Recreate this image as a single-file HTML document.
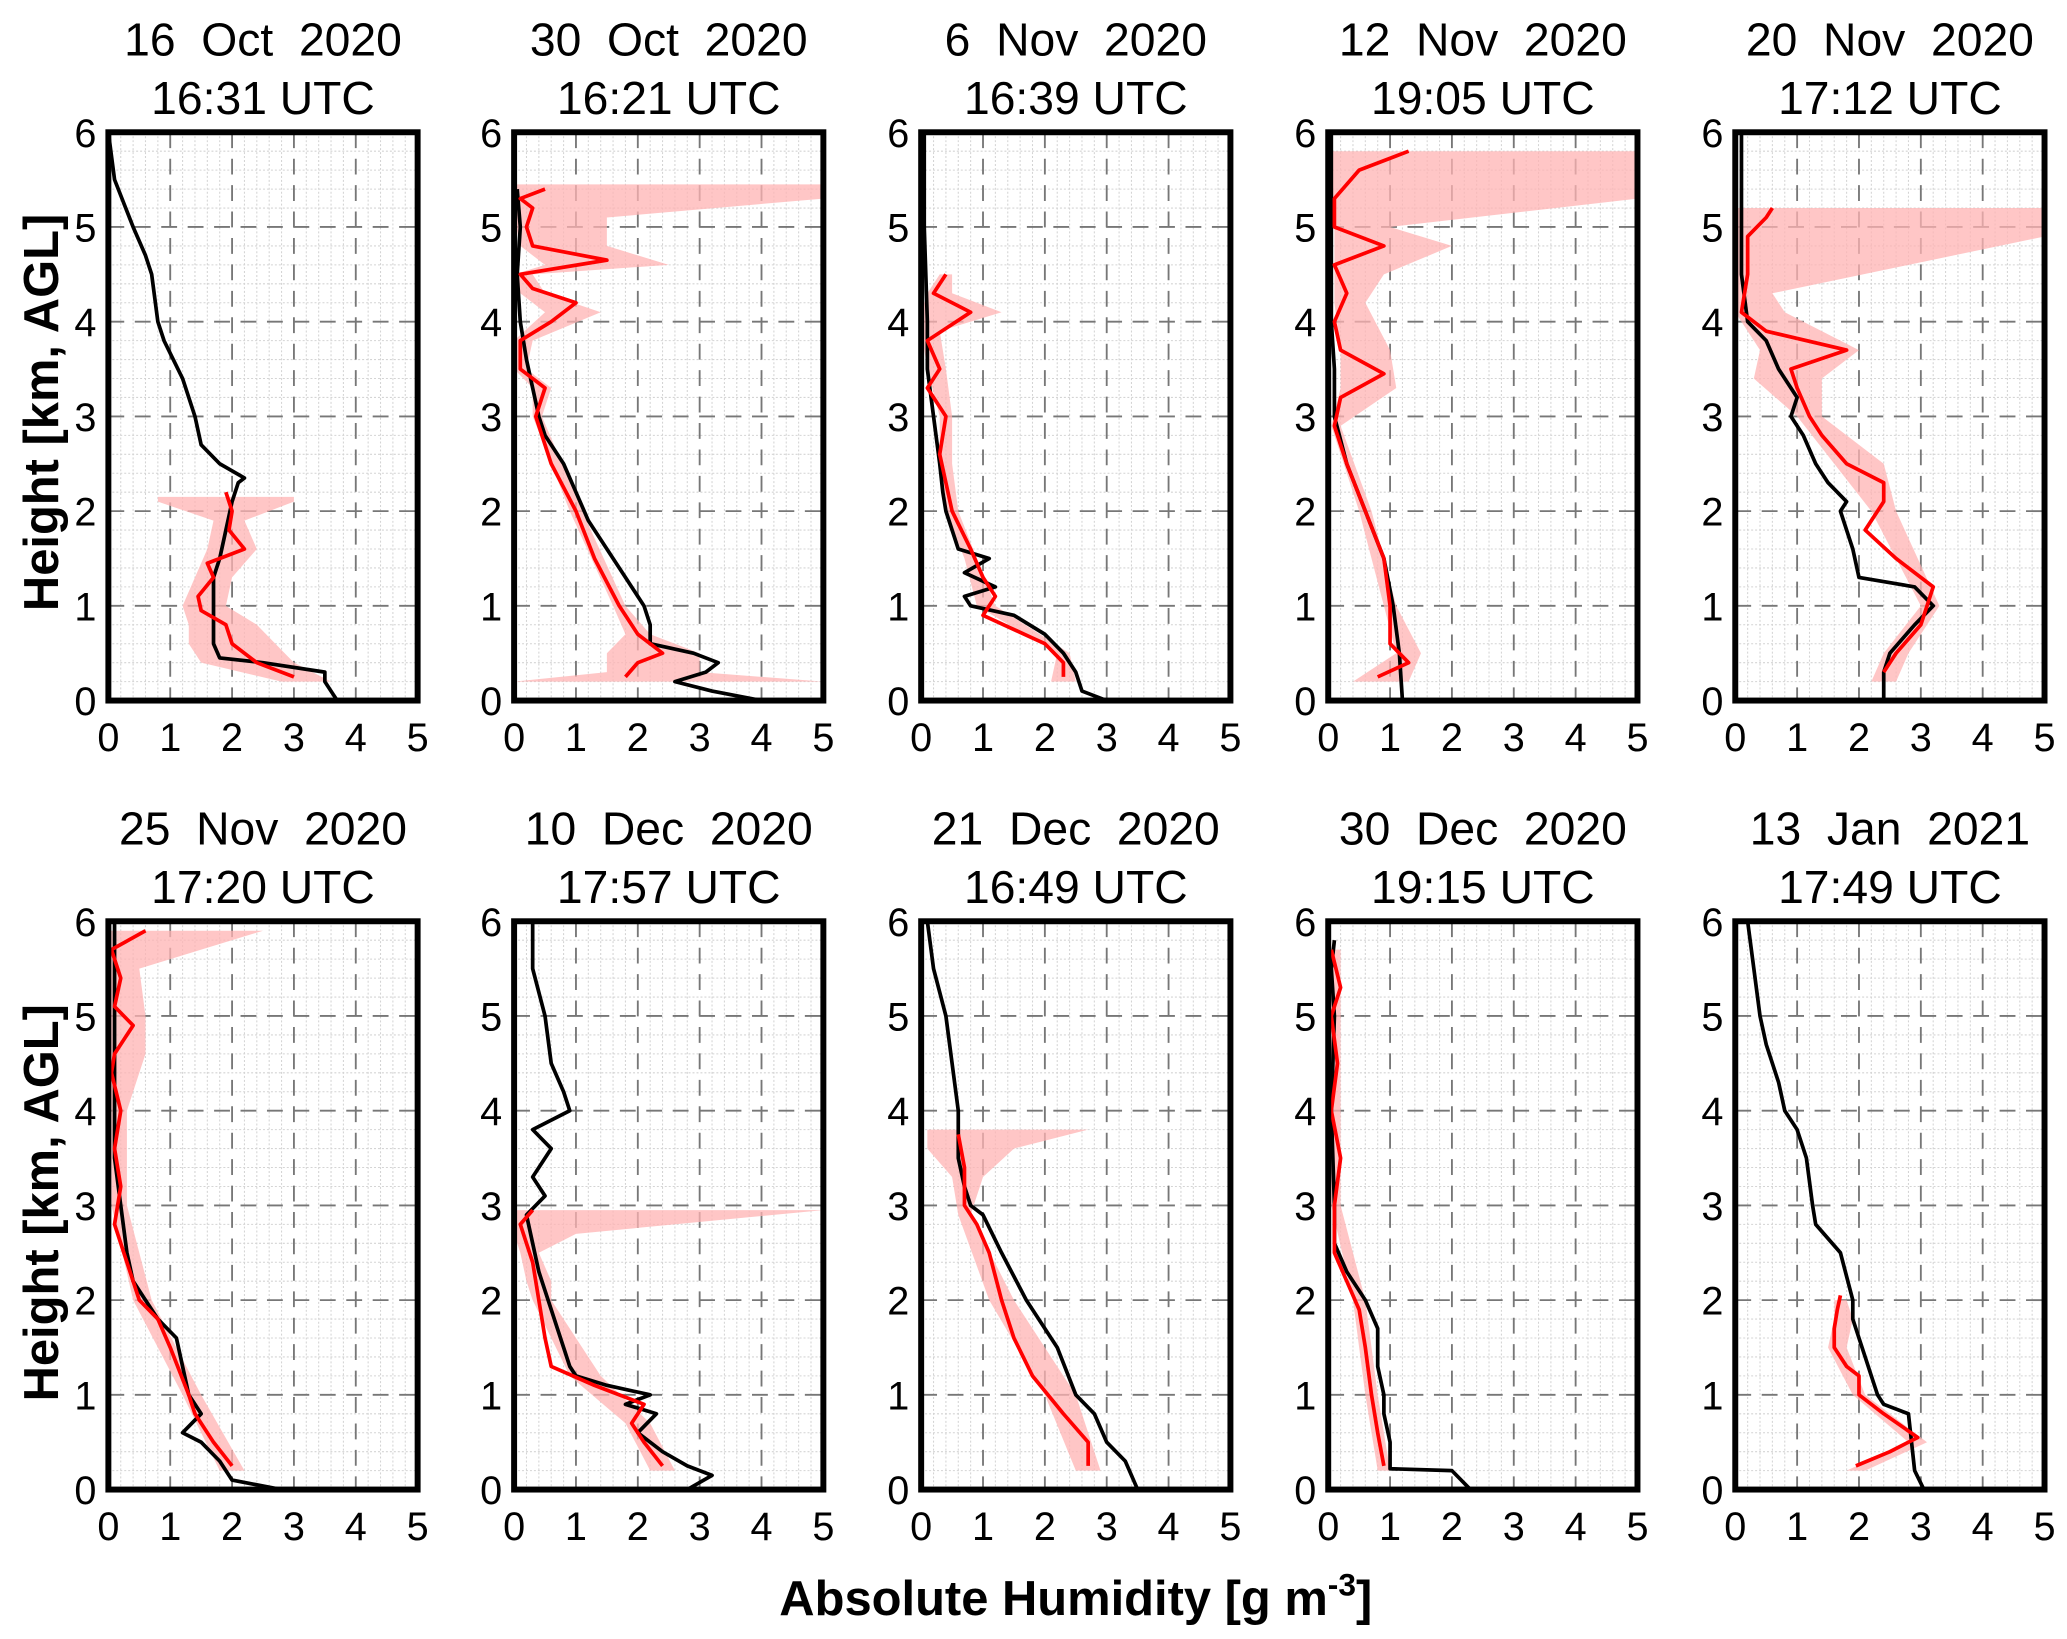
<!DOCTYPE html>
<html><head><meta charset="utf-8"><style>
html,body{margin:0;padding:0;background:#fff;}
svg{display:block;}
text{font-family:"Liberation Sans",sans-serif;fill:#000;}
</style></head><body>
<svg id="fig" width="2067" height="1639" viewBox="0 0 1564 1240" xmlns="http://www.w3.org/2000/svg">
<text x="0" y="0" transform="translate(44,312) rotate(-90)" text-anchor="middle" font-size="37" font-weight="bold">Height [km, AGL]</text>
<text x="0" y="0" transform="translate(44,910) rotate(-90)" text-anchor="middle" font-size="37" font-weight="bold">Height [km, AGL]</text>
<text x="814" y="1222" text-anchor="middle" font-size="37" font-weight="bold">Absolute Humidity [g m<tspan dy="-15" font-size="24">-3</tspan><tspan dy="15">]</tspan></text>
</svg>
<script>
const titles1 = ["16  Oct  2020","30  Oct  2020","6  Nov  2020","12  Nov  2020","20  Nov  2020","25  Nov  2020","10  Dec  2020","21  Dec  2020","30  Dec  2020","13  Jan  2021"];
const titles2 = ["16:31 UTC","16:21 UTC","16:39 UTC","19:05 UTC","17:12 UTC","17:20 UTC","17:57 UTC","16:49 UTC","19:15 UTC","17:49 UTC"];
const xTicks = [0,1,2,3,4,5];
const yTicks = [0,1,2,3,4,5,6];
// observed (black) profiles: heights km, humidity g m-3
const obsH = [
 [0,0.1,0.2,0.3,0.4,0.45,0.6,0.9,1.3,1.5,1.8,2.1,2.3,2.35,2.5,2.7,3.0,3.4,3.8,4.0,4.5,4.7,5.0,5.5,6.0],
 [0,0.1,0.2,0.3,0.4,0.5,0.6,0.8,1.0,1.3,1.6,1.9,2.2,2.5,2.8,3.0,3.3,3.6,4.0,4.5,5.0,5.4],
 [0,0.1,0.3,0.5,0.7,0.9,1.0,1.1,1.2,1.35,1.5,1.6,1.8,2.0,2.2,2.5,3.0,3.5,4.0,5.0,6.0],
 [0,0.5,1.0,1.5,2.0,2.5,3.0,3.5,4.0,5.0,6.0],
 [0,0.3,0.5,0.8,1.0,1.2,1.3,1.6,1.8,2.0,2.1,2.3,2.5,2.8,3.0,3.2,3.5,3.8,4.0,4.5,5.0,5.5,6.0],
 [0,0.1,0.3,0.5,0.6,0.8,1.0,1.3,1.6,1.8,2.0,2.2,2.5,3.0,3.5,4.0,5.0,6.0],
 [0,0.15,0.25,0.4,0.6,0.8,0.9,1.0,1.1,1.2,1.3,1.5,1.7,1.9,2.1,2.3,2.6,2.9,3.1,3.3,3.6,3.8,4.0,4.2,4.5,5.0,5.5,6.0],
 [0,0.3,0.5,0.8,1.0,1.5,2.0,2.5,2.9,3.0,3.2,3.5,4.0,4.5,5.0,5.5,6.0],
 [0,0.2,0.22,0.5,0.8,1.0,1.3,1.7,2.0,2.3,2.6,3.0,4.0,5.0,5.5,5.8],
 [0,0.2,0.5,0.8,0.9,1.0,1.2,1.4,1.6,1.8,2.0,2.5,2.8,3.0,3.5,3.8,4.0,4.3,4.7,5.0,5.5,6.0]
];
const obsX = [
 [3.7,3.6,3.5,3.5,2.5,1.8,1.7,1.7,1.7,1.8,1.9,2.0,2.1,2.2,1.8,1.5,1.4,1.2,0.9,0.8,0.7,0.6,0.4,0.1,0.0],
 [4.0,3.2,2.6,3.1,3.3,2.9,2.2,2.2,2.1,1.8,1.5,1.2,1.0,0.8,0.5,0.4,0.3,0.2,0.1,0.05,0.1,0.05],
 [3.0,2.6,2.5,2.3,2.0,1.5,0.8,0.7,1.2,0.7,1.1,0.6,0.5,0.4,0.35,0.3,0.2,0.1,0.1,0.05,0.05],
 [1.2,1.15,1.05,0.9,0.6,0.3,0.1,0.1,0.05,0.05,0.05],
 [2.4,2.4,2.5,2.9,3.2,2.9,2.0,1.9,1.8,1.7,1.8,1.5,1.3,1.1,0.9,1.0,0.7,0.5,0.2,0.1,0.1,0.1,0.1],
 [2.8,2.0,1.8,1.5,1.2,1.5,1.3,1.2,1.1,0.8,0.6,0.4,0.3,0.2,0.1,0.1,0.1,0.1],
 [2.8,3.2,2.8,2.4,2.0,2.3,1.8,2.2,1.5,1.0,0.9,0.8,0.7,0.6,0.5,0.4,0.3,0.2,0.5,0.3,0.6,0.3,0.9,0.8,0.6,0.5,0.3,0.3],
 [3.5,3.3,3.0,2.8,2.5,2.2,1.7,1.3,1.0,0.8,0.7,0.6,0.6,0.5,0.4,0.2,0.1],
 [2.3,2.0,1.0,1.0,0.9,0.9,0.8,0.8,0.6,0.3,0.1,0.1,0.05,0.1,0.05,0.1],
 [3.05,2.9,2.85,2.8,2.4,2.3,2.2,2.1,2.0,1.9,1.9,1.7,1.3,1.25,1.15,1.0,0.8,0.7,0.5,0.4,0.3,0.2]
];
// retrieved (red) profiles
const retH = [
 [0.25,0.4,0.6,0.8,0.95,1.1,1.3,1.45,1.6,1.8,2.0,2.2],
 [0.25,0.4,0.5,0.7,1.0,1.5,2.0,2.5,3.0,3.3,3.5,3.8,4.0,4.2,4.35,4.5,4.65,4.8,5.0,5.2,5.3,5.4],
 [0.25,0.4,0.6,0.9,1.1,1.3,1.6,2.0,2.3,2.6,3.0,3.3,3.5,3.8,4.1,4.3,4.5],
 [0.25,0.4,0.6,1.0,1.5,2.0,2.5,2.9,3.2,3.45,3.7,4.0,4.3,4.6,4.8,5.0,5.3,5.6,5.8],
 [0.3,0.5,0.8,1.2,1.5,1.8,2.1,2.3,2.5,2.8,3.0,3.3,3.5,3.7,3.9,4.1,4.5,4.9,5.1,5.2],
 [0.25,0.5,0.8,1.0,1.5,1.8,2.0,2.4,2.8,3.2,3.6,4.0,4.4,4.6,4.9,5.1,5.4,5.7,5.9],
 [0.25,0.5,0.7,0.9,1.1,1.3,1.6,2.0,2.4,2.6,2.8,2.95],
 [0.25,0.5,0.8,1.2,1.6,2.0,2.5,2.8,3.0,3.4,3.75],
 [0.25,0.6,1.0,1.5,1.9,2.2,2.5,3.0,3.5,4.0,4.5,5.0,5.3,5.7],
 [0.25,0.4,0.55,0.8,1.0,1.2,1.3,1.5,1.7,1.9,2.05]
];
const retX = [
 [3.0,2.4,2.0,1.9,1.5,1.45,1.7,1.6,2.2,1.95,2.0,1.9],
 [1.8,2.0,2.4,2.0,1.7,1.3,1.0,0.6,0.35,0.5,0.1,0.1,0.6,1.0,0.3,0.1,1.5,0.3,0.2,0.3,0.1,0.5],
 [2.3,2.3,2.0,1.0,1.2,1.0,0.8,0.5,0.4,0.3,0.4,0.1,0.3,0.1,0.8,0.2,0.4],
 [0.8,1.3,1.0,1.0,0.9,0.6,0.3,0.1,0.2,0.9,0.2,0.1,0.3,0.1,0.9,0.1,0.1,0.5,1.3],
 [2.4,2.6,3.0,3.2,2.6,2.1,2.4,2.4,1.8,1.4,1.2,1.0,0.9,1.8,0.5,0.1,0.2,0.2,0.5,0.6],
 [2.0,1.7,1.4,1.3,1.0,0.8,0.5,0.3,0.1,0.2,0.1,0.2,0.05,0.1,0.4,0.1,0.2,0.05,0.6],
 [2.4,2.1,1.9,2.1,1.3,0.6,0.5,0.4,0.3,0.2,0.1,0.3],
 [2.7,2.7,2.3,1.8,1.5,1.3,1.1,0.9,0.7,0.7,0.6],
 [0.9,0.8,0.7,0.6,0.5,0.3,0.1,0.1,0.2,0.05,0.15,0.05,0.2,0.05],
 [1.95,2.5,2.95,2.4,2.0,2.0,1.8,1.6,1.6,1.65,1.7]
];
// uncertainty band (pink): heights, lower, upper
const bandH = [
 [0.2,0.4,0.6,0.8,1.0,1.3,1.6,1.9,2.1,2.15],
 [0.2,0.3,0.5,0.7,1.0,2.0,3.0,3.3,3.5,3.8,4.1,4.3,4.5,4.6,4.8,5.1,5.3,5.45],
 [0.2,0.5,1.0,1.5,2.0,2.5,3.0,3.5,3.9,4.1,4.3,4.5],
 [0.2,0.5,1.0,2.0,2.9,3.3,3.7,4.2,4.5,4.8,5.0,5.3,5.8],
 [0.2,0.5,1.0,2.0,2.5,3.0,3.4,3.7,4.1,4.3,4.9,5.2],
 [0.2,1.0,2.0,3.0,4.0,4.6,5.0,5.5,5.9],
 [0.2,0.7,1.2,2.0,2.2,2.5,2.7,2.95],
 [0.2,1.0,2.0,2.9,3.3,3.6,3.8],
 [0.2,1.0,2.0,3.0,4.0,5.0,5.7],
 [0.2,0.5,1.0,1.5,1.8,2.0]
];
const bandLo = [
 [2.8,1.5,1.3,1.3,1.2,1.4,1.6,1.7,0.8,0.8],
 [0,1.5,1.5,1.8,1.6,0.9,0.3,0.3,0,0,0.5,0.1,0,0.5,0.1,0,0,0],
 [2.1,2.2,0.9,0.7,0.4,0.3,0.3,0.1,0,0,0.1,0.3],
 [0.4,1.1,0.9,0.5,0.05,0.2,0.2,0.1,0.1,0.1,0.1,0,0],
 [2.2,2.4,3.0,2.2,1.6,1.0,0.3,0.4,0,0,0,0],
 [1.8,1.2,0.4,0.05,0.05,0,0,0,0],
 [2.2,1.8,0.9,0.3,0.2,0.1,0,0],
 [2.5,2.0,1.1,0.6,0.5,0.1,0.1],
 [0.8,0.6,0.4,0.05,0,0,0],
 [1.8,2.8,1.9,1.5,1.6,1.6]
];
const bandHi = [
 [3.6,3.0,2.7,2.4,1.9,2.0,2.4,2.2,3.0,3.0],
 [5,3.0,3.0,2.2,1.8,1.1,0.45,0.6,0.2,0.3,1.4,0.5,0.3,2.5,1.5,1.5,5,5],
 [2.5,2.4,1.2,0.9,0.6,0.5,0.5,0.4,0.3,1.3,0.5,0.5],
 [1.3,1.5,1.1,0.7,0.2,1.1,1.0,0.6,0.9,2.0,1.0,5,5],
 [2.6,2.8,3.3,2.6,2.4,1.4,1.4,2.0,0.8,0.6,5,5],
 [2.2,1.5,0.7,0.3,0.3,0.6,0.6,0.5,2.5],
 [2.6,2.2,1.4,0.6,0.6,0.4,1.0,5],
 [2.9,2.5,1.5,0.8,1.0,1.5,2.7],
 [1.0,0.8,0.6,0.2,0.2,0.2,0.2],
 [2.1,3.1,2.1,1.8,1.9,1.8]
];
</script>
<script>
const NS = "http://www.w3.org/2000/svg";
const svg = document.getElementById("fig");
const colL = [82,389,697,1005,1313], rowT = [100,697], PW = 234, PH = 430;
function mk(tag, attrs, parent) {
  const e = document.createElementNS(NS, tag);
  for (const k in attrs) e.setAttribute(k, attrs[k]);
  (parent || svg).appendChild(e);
  return e;
}
for (let p = 0; p < 10; p++) {
  const L = colL[p % 5], T = rowT[Math.floor(p / 5)];
  const sx = v => L + v / 5 * PW;
  const sy = v => T + PH - v / 6 * PH;
  const g = mk("g", {});
  
  
  const t1 = mk("text", {x: L + PW / 2, y: T - 58, "text-anchor": "middle", "font-size": 35, style: "white-space:pre"}, g);
  
  
  t1.textContent = titles1[p];
  const t2 = mk("text", {x: L + PW / 2, y: T - 14, "text-anchor": "middle", "font-size": 35}, g);
  
  
  t2.textContent = titles2[p];
  for (let v = 0.2; v < 5; v += 0.2) {
    if (Math.abs(v - Math.round(v)) < 0.01) continue;
    mk("line", {x1: sx(v), x2: sx(v), y1: T, y2: T + PH, stroke: "#d4d4d4", "stroke-width": 0.8, "stroke-dasharray": "1.5 1.5"}, g);
  }
  for (let v = 0.2; v < 6; v += 0.2) {
    if (Math.abs(v - Math.round(v)) < 0.01) continue;
    mk("line", {x1: L, x2: L + PW, y1: sy(v), y2: sy(v), stroke: "#d4d4d4", "stroke-width": 0.8, "stroke-dasharray": "1.5 1.5"}, g);
  }
  for (let i = 1; i < 5; i++) mk("line", {x1: sx(i), x2: sx(i), y1: T, y2: T + PH, stroke: "#777", "stroke-width": 1.4, "stroke-dasharray": "12 8"}, g);
  for (let i = 1; i < 6; i++) mk("line", {x1: L, x2: L + PW, y1: sy(i), y2: sy(i), stroke: "#777", "stroke-width": 1.4, "stroke-dasharray": "12 8"}, g);
  const bh = bandH[p];
  let pts = bh.map((h, i) => sx(bandLo[p][i]) + "," + sy(h));
  pts = pts.concat(bh.map((h, i) => sx(bandHi[p][i]) + "," + sy(h)).reverse());
  const band = mk("polygon", {points: pts.join(" "), fill: "#ffb3b3", "fill-opacity": 0.75}, g);
  
  
  const ob = mk("polyline", {points: obsH[p].map((h, i) => sx(obsX[p][i]) + "," + sy(h)).join(" "), fill: "none", stroke: "#000", "stroke-width": 2.8, "stroke-linejoin": "round"}, g);
  
  
  const rt = mk("polyline", {points: retH[p].map((h, i) => sx(retX[p][i]) + "," + sy(h)).join(" "), fill: "none", stroke: "#ff0000", "stroke-width": 2.8, "stroke-linejoin": "round"}, g);
  
  
  const fr = mk("rect", {x: L, y: T, width: PW, height: PH, fill: "none", stroke: "#000", "stroke-width": 4.5}, g);
  
  
  xTicks.forEach(v => {
    const t = mk("text", {x: sx(v), y: T + PH + 38, "text-anchor": "middle", "font-size": 30}, g);
    
    
    t.textContent = v;
  });
  yTicks.forEach(v => {
    const t = mk("text", {x: L - 9, y: sy(v) + 11, "text-anchor": "end", "font-size": 30}, g);
    
    
    t.textContent = v;
  });
}
</script>
</body></html>
